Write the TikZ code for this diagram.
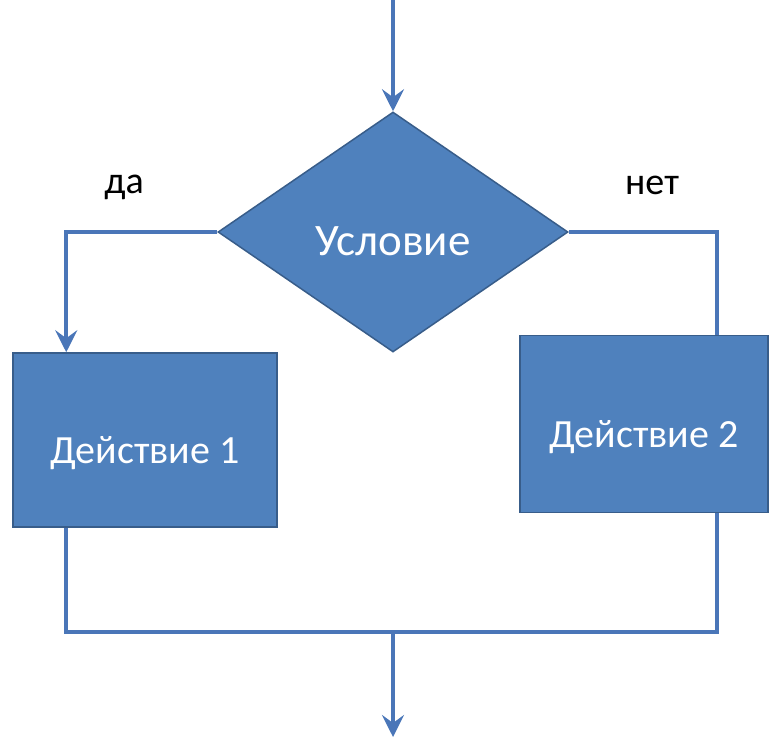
\documentclass[tikz,border=0pt]{standalone}
\usepackage{fontspec}
\setmainfont{Carlito}
\usetikzlibrary{shapes.geometric,arrows.meta}
\definecolor{boxblue}{HTML}{4F81BD}
\definecolor{edgeblue}{HTML}{385D8A}
\definecolor{lineblue}{HTML}{4A76B8}
\begin{document}
\begin{tikzpicture}[x=1pt, y=-1pt, line width=3.8pt, lineblue,
    block/.style={draw=edgeblue, line width=1.5pt, fill=boxblue, text=white, text height=46pt, text depth=0pt, font=\fontsize{40}{48}\selectfont},
    cond/.style={block, diamond, minimum width=350pt, minimum height=240pt, inner sep=0pt, font=\fontsize{45}{54}\selectfont},
    answer/.style={text=black, font=\fontsize{38}{44}\selectfont},
    >={Stealth[length=22pt, width=22pt, inset=8pt]}]
    \useasboundingbox (0,0) rectangle (770,738);
    % Nodes
    \node[cond] (U) at (393,232) {Условие};
    \node[block, minimum width=264pt, minimum height=174pt] (D1) at (145,440) {Действие 1};
    \node[block, minimum width=248pt, minimum height=177pt] (D2) at (644,424) {Действие 2};
    \node[answer] (da) at (124,187) {да};
    \node[answer] (net) at (652,185) {нет};
    \coordinate (in) at (393,0);
    \coordinate (join) at (393,632);
    \coordinate (out) at (393,737);
    \draw[->] (in) -- (U.north);
    \draw[->] (U.west) -| ([xshift=54pt]D1.north west);
    \draw (U.east) -| ([xshift=73pt]D2.north);
    \draw ([xshift=54pt]D1.south west) |- (join) -| ([xshift=73pt]D2.south);
    \draw[->] (join) -- (out);
  \end{tikzpicture}
\end{document}
